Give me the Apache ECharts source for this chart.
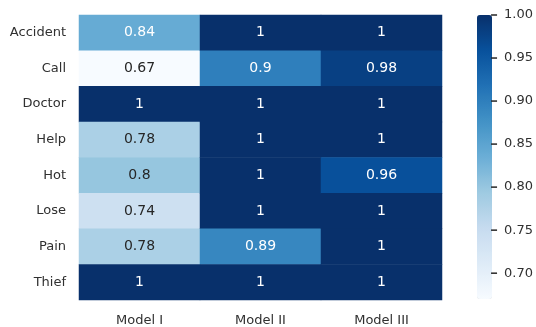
<!DOCTYPE html>
<html>
<head>
<meta charset="utf-8">
<script src="https://cdn.jsdelivr.net/npm/echarts@6/dist/echarts.min.js"></script>
<style>
  html, body { margin: 0; padding: 0; background: #fff; }
  #chart { width: 536px; height: 327px; }
</style>
</head>
<body>
<div id="chart"></div>
<script>
// Categories
const rowNames = ['Accident', 'Call', 'Doctor', 'Help', 'Hot', 'Lose', 'Pain', 'Thief'];
const modelNames = ['Model I', 'Model II', 'Model III'];

// Scores per model (one entry per row)
const modelI   = [0.84, 0.67, 1, 0.78, 0.8, 0.74, 0.78, 1];
const modelII  = [1, 0.9, 1, 1, 1, 1, 0.89, 1];
const modelIII = [1, 0.98, 1, 1, 0.96, 1, 1, 1];

// Colour bar range and tick labels
const scaleMin = 0.67;
const scaleMax = 1.0;
const barTicks = [0.70, 0.75, 0.80, 0.85, 0.90, 0.95, 1.00];

// Sequential "Blues" palette anchors
const blues = ['#f7fbff', '#deebf7', '#c6dbef', '#9ecae1', '#6baed6',
               '#4292c6', '#2171b5', '#08519c', '#08306b'];

function hexToRgb(h) {
  return [parseInt(h.slice(1, 3), 16), parseInt(h.slice(3, 5), 16), parseInt(h.slice(5, 7), 16)];
}
function colourAt(v) {
  let t = (v - scaleMin) / (scaleMax - scaleMin);
  t = Math.max(0, Math.min(1, t));
  const p = t * (blues.length - 1);
  const i = Math.min(Math.floor(p), blues.length - 2);
  const f = p - i;
  const a = hexToRgb(blues[i]), b = hexToRgb(blues[i + 1]);
  return a.map((c, k) => c + (b[k] - c) * f);
}
function luminance(rgb) {
  const lin = rgb.map(c => {
    c /= 255;
    return c <= 0.03928 ? c / 12.92 : Math.pow((c + 0.055) / 1.055, 2.4);
  });
  return 0.2126 * lin[0] + 0.7152 * lin[1] + 0.0722 * lin[2];
}

const columns = [modelI, modelII, modelIII];
const cells = [];
columns.forEach((col, x) => {
  col.forEach((v, y) => {
    const light = luminance(colourAt(v)) > 0.408;
    cells.push({
      value: [x, y, v],
      label: { color: light ? '#262626' : '#ffffff' }
    });
  });
});

const font = 'DejaVu Sans';
const textGrey = '#303030';
const chart = echarts.init(document.getElementById('chart'), null, { renderer: 'canvas' });

chart.setOption({
  animation: false,
  backgroundColor: '#ffffff',
  grid: [
    // heatmap
    { left: 79, right: 94, top: 15, bottom: 27 },
    // colour-bar scale
    { left: 477, width: 15, top: 15, bottom: 28 }
  ],
  xAxis: [
    {
      gridIndex: 0,
      type: 'category',
      data: modelNames,
      position: 'bottom',
      axisLine: { show: false },
      axisTick: { show: false },
      axisLabel: { margin: 14, fontFamily: font, fontSize: 13, color: textGrey },
      splitLine: { show: false }
    },
    { gridIndex: 1, type: 'value', min: 0, max: 1, show: false }
  ],
  yAxis: [
    {
      gridIndex: 0,
      type: 'category',
      data: rowNames,
      inverse: true,
      axisLine: { show: false },
      axisTick: { show: false },
      axisLabel: { margin: 13, fontFamily: font, fontSize: 13, color: textGrey },
      splitLine: { show: false }
    },
    {
      gridIndex: 1,
      type: 'value',
      position: 'right',
      min: scaleMin,
      max: scaleMax,
      axisLine: { show: false, onZero: false },
      axisTick: { show: false, customValues: barTicks },
      axisLabel: {
        show: true,
        margin: 13,
        customValues: barTicks,
        formatter: v => v.toFixed(2),
        fontFamily: font,
        fontSize: 13,
        color: textGrey
      },
      splitLine: { show: false }
    }
  ],
  visualMap: {
    type: 'continuous',
    seriesIndex: 0,
    min: scaleMin,
    max: scaleMax,
    dimension: 2,
    calculable: false,
    realtime: false,
    orient: 'vertical',
    left: 477,
    top: 15,
    itemWidth: 15,
    itemHeight: 284,
    padding: 0,
    text: null,
    showLabel: false,
    inRange: { color: blues }
  },
  series: [
    {
      type: 'heatmap',
      xAxisIndex: 0,
      yAxisIndex: 0,
      data: cells,
      itemStyle: { borderWidth: 0 },
      label: {
        show: true,
        fontFamily: font,
        fontSize: 14,
        formatter: p => String(p.value[2])
      },
      emphasis: { disabled: true }
    }
  ]
});

// Colour-bar tick marks, placed through the colour-bar axes
const barEdge = chart.convertToPixel({ xAxisIndex: 1 }, 1);
const tickMarks = barTicks.map(v => {
  const y = chart.convertToPixel({ yAxisIndex: 1 }, v);
  return {
    type: 'line',
    z: 100,
    shape: { x1: barEdge, y1: y, x2: barEdge + 6, y2: y },
    style: { stroke: '#262626', lineWidth: 1.5 }
  };
});
chart.setOption({ graphic: tickMarks });
</script>
</body>
</html>
